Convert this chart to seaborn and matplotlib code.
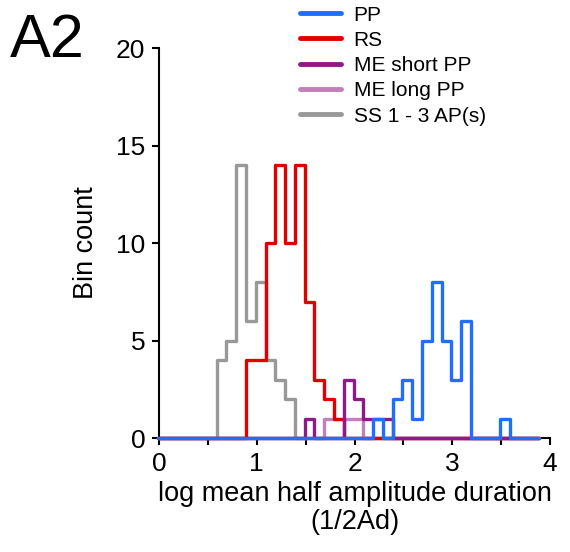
import numpy as np
import pandas as pd
import matplotlib
matplotlib.use("Agg")
import matplotlib.pyplot as plt
import seaborn as sns
from matplotlib.lines import Line2D

# Bin counts (bin width 0.1, value = left edge of bin)
pp_bins = [2.19, 2.39, 2.49, 2.59, 2.69, 2.79, 2.89, 2.99, 3.09, 3.49]
pp_counts = [1, 2, 3, 1, 5, 8, 5, 3, 6, 1]

rs_bins = [0.89, 0.99, 1.09, 1.19, 1.29, 1.39, 1.49, 1.59, 1.69, 1.79]
rs_counts = [4, 4, 10, 14, 10, 14, 7, 3, 2, 1]

me_short_bins = [1.49, 1.89, 1.99, 2.09, 2.19, 2.29]
me_short_counts = [1, 3, 2, 1, 1, 1]

me_long_bins = [1.69, 1.79, 1.89, 1.99]
me_long_counts = [1, 1, 1, 1]

ss_bins = [0.59, 0.69, 0.79, 0.89, 0.99, 1.09, 1.19, 1.29]
ss_counts = [4, 5, 14, 6, 8, 4, 3, 2]

labels = ["PP", "RS", "ME short PP", "ME long PP", "SS 1 - 3 AP(s)"]
colors = ["#1f6eff", "#e00000", "#8c1a88", "#c27fba", "#999999"]

bin_width = 0.1
edges = [round(v, 2) for v in np.arange(-0.01, 3.95, bin_width)]

series = [
    (pp_bins, pp_counts),
    (rs_bins, rs_counts),
    (me_short_bins, me_short_counts),
    (me_long_bins, me_long_counts),
    (ss_bins, ss_counts),
]
# drawing order: gray at bottom, blue on top
zorders = [6, 4, 5, 3, 2]

sns.set_style("ticks")
plt.rcParams['font.family'] = ['Liberation Sans', 'DejaVu Sans']
plt.rcParams.update({"text.color": "black", "axes.labelcolor": "black",
                     "xtick.color": "black", "ytick.color": "black"})

fig = plt.figure(figsize=(5.7, 5.52), dpi=100)
ax = fig.add_axes([0.279, 0.2065, 0.686, 0.7065])

for (b, c), col, z in zip(series, colors, zorders):
    df = pd.DataFrame({"x": np.array(b) + bin_width / 2, "w": c})
    sns.histplot(data=df, x="x", weights="w", bins=edges, element="step",
                 fill=False, color=col, linewidth=2.4, ax=ax, zorder=z)

# let the zero baseline of each outline show over the axis line
for ln in ax.lines:
    ln.set_clip_on(False)

ax.set_xlim(0, 4)
ax.set_ylim(0, 20)
ax.set_xticks(np.arange(0, 4.01, 0.5))
ax.set_xticklabels(["0", "", "1", "", "2", "", "3", "", "4"])
ax.set_yticks([0, 5, 10, 15, 20])
ax.tick_params(axis="both", labelsize=19, length=5, width=1.5, direction="out", pad=5, color="black")
for s in ["left", "bottom"]:
    ax.spines[s].set_linewidth(1.5)
    ax.spines[s].set_color("black")
sns.despine(ax=ax)

ax.set_xlabel("log mean half amplitude duration\n(1/2Ad)", fontsize=19.5, labelpad=4, linespacing=1.1)
ax.set_ylabel("Bin count", fontsize=19.5, labelpad=12)

handles = [Line2D([0], [0], color=c, lw=3.5) for c in colors]
fig.legend(handles, labels, loc="upper left", bbox_to_anchor=(0.527, 0.99),
           frameon=False, fontsize=15, handlelength=1.95, handletextpad=0.6,
           labelspacing=0.3, borderpad=0, borderaxespad=0)

fig.text(0.017, 0.897, "A2", fontsize=44, va="baseline")

fig.savefig("out.png", dpi=100)
